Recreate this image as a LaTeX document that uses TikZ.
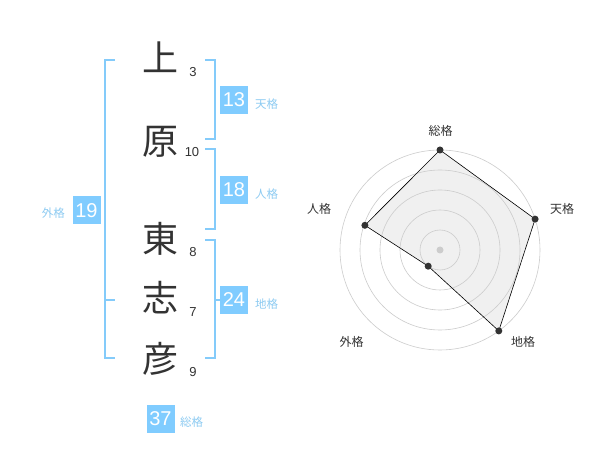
\documentclass[tikz,border=0pt]{standalone}
\usepackage{fontspec}
\usetikzlibrary{calc}
\setmainfont{Liberation Sans}
\newfontfamily\jp{Noto Sans CJK JP}
\definecolor{boxblue}{HTML}{80CCFF}
\definecolor{lineblue}{HTML}{84CBFA}
\definecolor{lblblue}{HTML}{8DCBF2}
\definecolor{ink}{HTML}{333333}
\definecolor{ringgray}{HTML}{CCCCCC}
\definecolor{fillgray}{HTML}{F0F0F0}
\begin{document}
\begin{tikzpicture}[x=1pt,y=-1pt,
  kanji/.style={inner sep=0pt,font=\jp\fontsize{36}{36}\selectfont,text=ink,text height=0.83em,text depth=0.07em},
  stroke/.style={inner sep=0pt,font=\fontsize{13}{13}\selectfont,text=ink,text height=0.72em,text depth=0pt},
  scorebox/.style={fill=boxblue,text=white,minimum width=28pt,minimum height=28pt,inner sep=0pt,font=\fontsize{20}{20}\selectfont},
  scorelbl/.style={inner sep=0pt,text=lblblue,font=\jp\fontsize{11.5}{11.5}\selectfont},
  bracket/.style={draw=lineblue,line width=2pt},
  ring/.style={draw=ringgray,line width=0.6pt},
  axislbl/.style={inner sep=0pt,text=ink,font=\jp\fontsize{12}{12}\selectfont},
  dot/.style={circle,fill=ink,inner sep=0pt,minimum size=7pt}]
\useasboundingbox (0,0) rectangle (600,470);
\fill[white] (0,0) rectangle (600,470);

% characters
\node[kanji] (k1) at (160,68) {上};
\node[kanji] (k2) at (160,150.5) {原};
\node[kanji] (k3) at (160,249) {東};
\node[kanji] (k4) at (160,308) {志};
\node[kanji] (k5) at (160,369) {彦};
\node[stroke] (n1) at (193,72.5) {3};
\node[stroke] (n2) at (192,152.5) {10};
\node[stroke] (n3) at (193,253) {8};
\node[stroke] (n4) at (193,313) {7};
\node[stroke] (n5) at (193,373) {9};

% brackets
\draw[bracket] (115,60) -- (105,60) -- (105,358.5) -- (115,358.5);
\draw[bracket] (105,300) -- (115,300);
\draw[bracket] (205,60) -- (215,60) -- (215,139.5) -- (205,139.5);
\draw[bracket] (205,149.5) -- (215,149.5) -- (215,229.5) -- (205,229.5);
\draw[bracket] (205,240) -- (215,240) -- (215,358.5) -- (205,358.5);
\draw[bracket] (215,300) -- (222,300);

% score boxes
\node[scorebox] (b13) at (234,100) {13};
\node[scorelbl,anchor=west] (l13) at (255,104) {天格};
\node[scorebox] (b18) at (234,190) {18};
\node[scorelbl,anchor=west] (l18) at (255,194) {人格};
\node[scorebox] (b24) at (234,300) {24};
\node[scorelbl,anchor=west] (l24) at (255,304) {地格};
\node[scorebox] (b19) at (86.5,210.5) {19};
\node[scorelbl,anchor=east] (l19) at (65,213) {外格};
\node[scorebox] (b37) at (160.5,419) {37};
\node[scorelbl,anchor=west] (l37) at (180,422.5) {総格};

% radar chart
\coordinate (c) at (440,250);
\coordinate (p1) at (440,150);
\coordinate (p2) at (535.1,219.1);
\coordinate (p3) at (498.8,330.9);
\coordinate (p4) at (428.2,266.2);
\coordinate (p5) at (364.9,225.3);
\fill[fillgray] (p1) -- (p2) -- (p3) -- (p4) -- (p5) -- cycle;
\foreach \r in {20,40,60,80,100} \draw[ring] (c) circle[radius=\r];
\fill[ringgray] (c) circle[radius=3.5];
\draw[black,line width=0.6pt] (p1) -- (p2) -- (p3) -- (p4) -- (p5) -- cycle;
\node[dot] (d1) at (p1) {};
\node[dot] (d2) at (p2) {};
\node[dot] (d3) at (p3) {};
\node[dot] (d4) at (p4) {};
\node[dot] (d5) at (p5) {};
\node[axislbl] (a1) at (440.5,130.5) {総格};
\node[axislbl] (a2) at (562,208.5) {天格};
\node[axislbl] (a3) at (523,341.5) {地格};
\node[axislbl] (a4) at (351.5,341.5) {外格};
\node[axislbl] (a5) at (319,208.5) {人格};
\end{tikzpicture}
\end{document}
